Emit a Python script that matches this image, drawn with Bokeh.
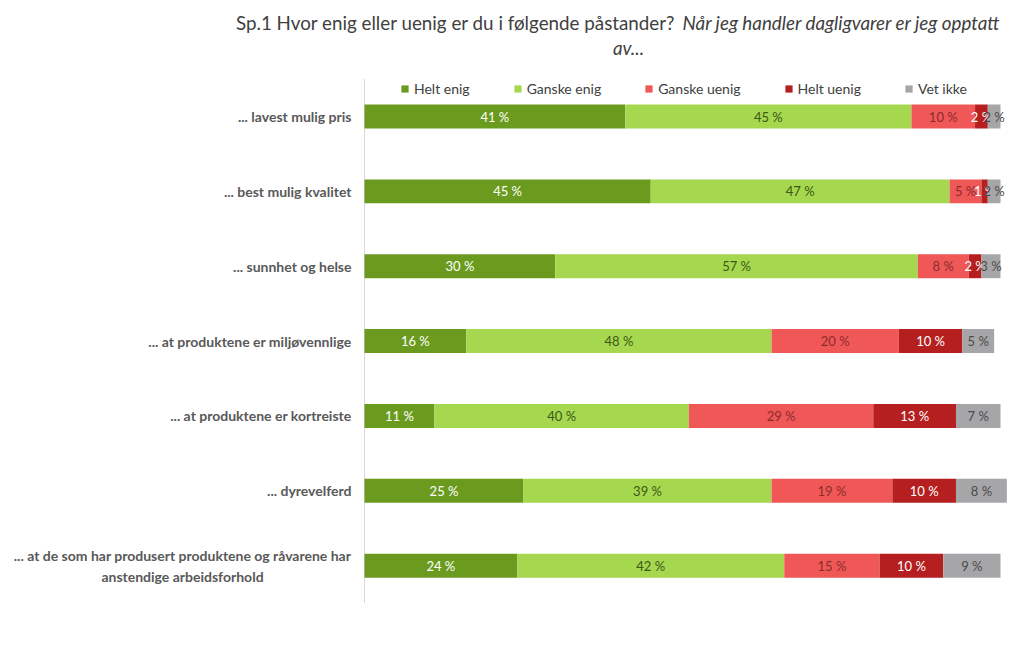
from bokeh.plotting import figure
from bokeh.models import Range1d, Legend, LegendItem, ColumnDataSource
from bokeh.core.properties import value
from bokeh.embed import file_html
from bokeh.resources import INLINE

title_plain = "Sp.1 Hvor enig eller uenig er du i følgende påstander? "
title_italic_1 = "Når jeg handler dagligvarer er jeg opptatt"
title_italic_2 = "av..."

categories = [
    "... lavest mulig pris",
    "... best mulig kvalitet",
    "... sunnhet og helse",
    "... at produktene er miljøvennlige",
    "... at produktene er kortreiste",
    "... dyrevelferd",
    "... at de som har produsert produktene og råvarene har\nanstendige arbeidsforhold",
]
series_names = ["Helt enig", "Ganske enig", "Ganske uenig", "Helt uenig", "Vet ikke"]
helt_enig = [41, 45, 30, 16, 11, 25, 24]
ganske_enig = [45, 47, 57, 48, 40, 39, 42]
ganske_uenig = [10, 5, 8, 20, 29, 19, 15]
helt_uenig = [2, 1, 2, 10, 13, 10, 10]
vet_ikke = [2, 2, 3, 5, 7, 8, 9]

series_values = [helt_enig, ganske_enig, ganske_uenig, helt_uenig, vet_ikke]
bar_colors = ["#6b9b1e", "#a5d84e", "#f05858", "#b51f1f", "#a6a6a8"]
label_colors = ["#ffffff", "#3d5716", "#8c2b2b", "#ffffff", "#4a4a4a"]

FONT = "Lato"
W, H = 1008, 651
AXIS_PX = 364          # pixel position of the 0 % baseline
PX_PER_PCT = 6.36      # pixels per percentage point
ROW_PX = 74.86         # pixels per category row
FIRST_ROW_PX = 116     # pixel centre of the first row

n = len(categories)
rows = list(range(n))

p = figure(
    width=W, height=H,
    output_backend="svg", toolbar_location=None,
    x_range=Range1d(-AXIS_PX / PX_PER_PCT, (W - AXIS_PX) / PX_PER_PCT),
    y_range=Range1d((H - FIRST_ROW_PX) / ROW_PX, -FIRST_ROW_PX / ROW_PX),
    x_axis_location=None, y_axis_location=None,
    min_border=0, min_border_left=0, min_border_right=0,
    min_border_top=0, min_border_bottom=0,
)
p.outline_line_color = None
p.xgrid.visible = False
p.ygrid.visible = False

# vertical category axis line at 0 %
p.segment(x0=[0], y0=[-0.5], x1=[0], y1=[n - 0.5], line_color="#d9d9d9", line_width=1)

# category labels
is_multi = ["\n" in c for c in categories]
cat_src = ColumnDataSource(dict(
    x=[0] * n, y=rows, text=categories,
    align=["center" if m else "right" for m in is_multi],
    xoff=[-182 if m else -13 for m in is_multi],
))
p.text(x="x", y="y", text="text", source=cat_src, text_align="align", x_offset="xoff",
       text_baseline="middle", text_font=value(FONT), text_font_size="14px",
       text_font_style="bold", text_color="#595959", text_line_height=1.25)

legend_items = []
left = [0] * n
for name, vals, col, lcol in zip(series_names, series_values, bar_colors, label_colors):
    right = [l + v for l, v in zip(left, vals)]
    mid = [(l + r) / 2 for l, r in zip(left, right)]
    src = ColumnDataSource(dict(y=rows, left=left, right=right, mid=mid,
                                txt=[f"{v} %" for v in vals]))
    r = p.hbar(y="y", left="left", right="right", height=0.32, source=src,
               fill_color=col, line_color=None)
    legend_items.append(LegendItem(label=name, renderers=[r]))
    p.text(x="mid", y="y", text="txt", source=src, text_align="center",
           text_baseline="middle", text_color=lcol, text_font=value(FONT),
           text_font_size="13px")
    left = right

legend = Legend(items=legend_items, orientation="horizontal", location=(400, 554),
                glyph_width=9, glyph_height=9, label_standoff=5, spacing=43,
                padding=0, margin=0, border_line_color=None, background_fill_alpha=0,
                label_text_font=FONT, label_text_font_size="14px",
                label_text_color="#404040")
p.add_layout(legend, "center")

# title (two lines, second part italic)
TITLE_SIZE = "18.8px"
p.text(x=[0], y=[0], text=[title_plain], x_offset=316, y_offset=-94,
       text_align="right", text_baseline="middle",
       text_font=value(FONT), text_font_size=TITLE_SIZE, text_color="#404040")
p.text(x=[0], y=[0], text=[title_italic_1], x_offset=318, y_offset=-94,
       text_align="left", text_baseline="middle",
       text_font=value(FONT), text_font_size=TITLE_SIZE, text_font_style="italic",
       text_color="#404040")
p.text(x=[0], y=[0], text=[title_italic_2], x_offset=264, y_offset=-69,
       text_align="center", text_baseline="middle",
       text_font=value(FONT), text_font_size=TITLE_SIZE, text_font_style="italic",
       text_color="#404040")

open("out.html", "w").write(file_html(p, INLINE))
